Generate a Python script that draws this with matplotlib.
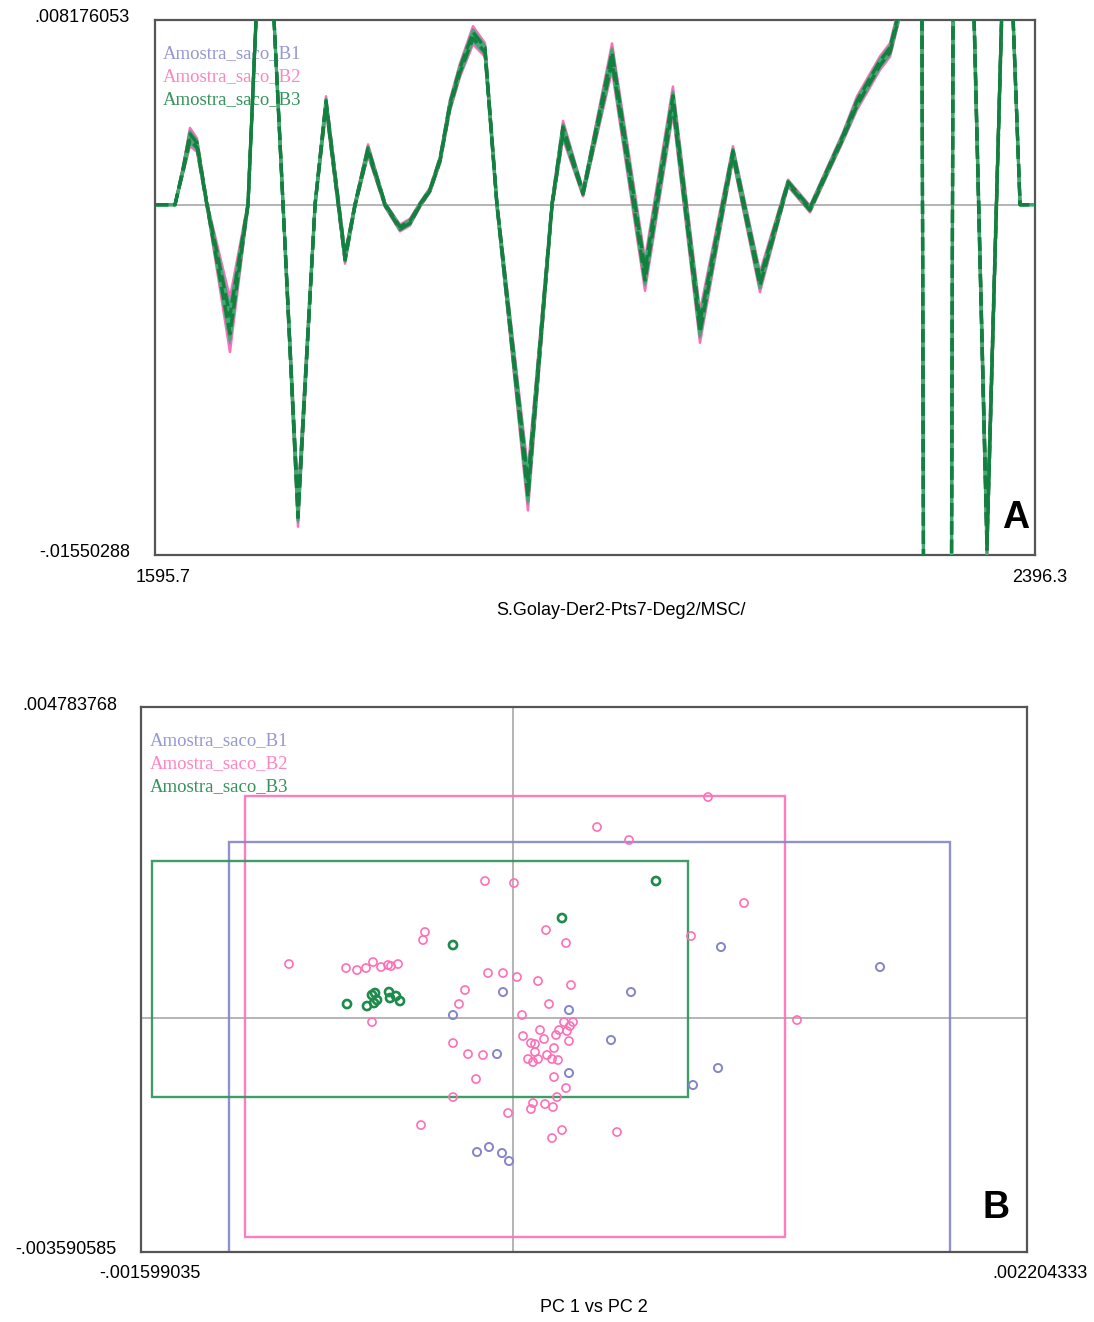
import matplotlib
matplotlib.use("Agg")
import matplotlib.pyplot as plt
from matplotlib.patches import Rectangle
import numpy as np

# ---------------- Panel A data (2nd derivative spectra) ----------------
wavelength = [1595.7, 1613.9, 1621.2, 1627.5, 1633.9, 1643.0, 1663.9, 1680.3, 1687.6, 1696.7,
              1704.0, 1712.2, 1725.8, 1741.3, 1751.3, 1768.6, 1777.7, 1789.5, 1805.0, 1818.6,
              1827.7, 1836.8, 1845.9, 1855.0, 1864.1, 1873.2, 1885.0, 1895.9, 1906.8, 1935.0,
              1956.9, 1966.9, 1985.1, 2011.5, 2041.5, 2066.9, 2091.5, 2121.5, 2146.1, 2171.6,
              2191.6, 2221.6, 2234.4, 2255.3, 2264.4, 2273.5, 2287.1, 2300.8, 2314.4, 2328.1,
              2339.0, 2352.6, 2368.1, 2373.5, 2382.7, 2396.3]
mean_spectrum = [0.0, 0.0, 0.00154, 0.00300, 0.00264, 0.0, -0.00532, 0.0, 0.00818, 0.00995,
                 0.00818, 0.0, -0.01365, 0.0, 0.00450, -0.00236, 0.0, 0.00242, 0.0, -0.00103,
                 -0.00077, 0.0, 0.00065, 0.00198, 0.00441, 0.00596, 0.00750, 0.00685, 0.0, -0.01263,
                 0.0, 0.00331, 0.00052, 0.00654, -0.00311, 0.00463, -0.00541, 0.00229, -0.00342, 0.00096,
                 -0.00019, 0.00300, 0.00450, 0.00627, 0.00685, 0.00862, 0.12, -0.12, -0.12, 0.12,
                 0.012, -0.0150, 0.012, 0.012, 0.0, 0.0]
spread = [0.0, 0.0, 0.00015, 0.0004, 0.0003, 0.0001, 0.0012, 0.0001, 0.00015, 0.00015,
          0.00015, 0.0001, 0.0006, 0.0001, 0.0003, 0.00025, 0.0001, 0.00025, 0.0001, 0.00015,
          0.00015, 0.0001, 0.0001, 0.00015, 0.00025, 0.0003, 0.0004, 0.0003, 0.00015, 0.0009,
          0.00015, 0.0004, 0.00015, 0.0006, 0.0007, 0.0006, 0.0007, 0.0003, 0.00045, 0.00015,
          0.00015, 0.0002, 0.0003, 0.0003, 0.0003, 0.0003, 0.0004, 0.0004, 0.0004, 0.0004,
          0.0004, 0.0008, 0.0004, 0.0004, 0.0, 0.0]
group_spread = {"B1": 0.7, "B2": 1.0, "B3": 0.55}
a_xlim = (1595.7, 2396.3)
a_ylim = (-0.01550288, 0.008176053)
a_labels = [".008176053", "-.01550288", "1595.7", "2396.3"]
a_xlabel = "S.Golay-Der2-Pts7-Deg2/MSC/"

# ---------------- Panel B data (PCA scores) ----------------
pc1_b1 = [8.907e-4, 5.044e-4, -0.451e-4, 2.382e-4, -2.597e-4, 4.185e-4, -0.708e-4, 2.382e-4,
          8.779e-4, 7.705e-4, -1.567e-4, -1.052e-4, -0.494e-4, -0.193e-4, 15.733e-4]
pc2_b1 = [10.956e-4, 4.041e-4, 4.041e-4, 1.275e-4, 0.507e-4, -3.334e-4, -5.486e-4, -8.405e-4,
          -7.637e-4, -10.249e-4, -20.544e-4, -19.776e-4, -20.698e-4, -21.927e-4, 7.883e-4]

pc1_b2 = [-9.637, -7.190, -6.718, -6.332, -6.031, -5.688, -5.387, -5.259, -4.958, -3.799,
          -3.885, -2.082, -2.340, -6.074, -1.223, 0.021, -1.095, -0.451, 0.150, 1.395,
          2.254, 1.052, 2.468, 1.524, 0.365, 8.349, 3.584, 4.958, 9.895, 7.620,
          12.170, 2.168, 2.425, 2.554, -2.597, 1.138, 0.408, 0.751, 1.824, 2.297,
          2.382, -1.953, -1.309, 0.923, 0.622, 0.837, 1.052, 1.438, 1.739, 1.653,
          1.910, -1.610, 1.739, 2.254, -2.597, 1.867, 0.837, 1.352, 1.696, 0.751,
          -0.236, -3.971, 2.082, 1.653, 4.443, 0.923, 1.309, 1.953]
pc2_b2 = [8.344, 7.729, 7.422, 7.729, 8.651, 7.883, 8.190, 8.036, 8.344, 13.261,
          12.032, 4.349, 2.197, -0.569, 21.098, 20.790, 6.961, 6.961, 6.346, 13.568,
          11.571, 5.732, 5.117, 2.197, 0.507, 34.005, 29.395, 27.398, 17.717, 12.646,
          -0.261, -0.569, -1.183, -0.569, -3.795, -1.798, -2.720, -3.795, -2.566, -1.951,
          -3.488, -5.486, -5.639, -5.178, -6.254, -6.715, -6.254, -5.639, -4.564, -6.254,
          -6.408, -9.327, -9.020, -10.710, -12.093, -12.093, -13.015, -13.169, -13.630, -13.937,
          -14.552, -16.396, -17.164, -18.393, -17.471, -3.949, -3.181, -1.798]
pc1_b2 = [v * 1e-4 for v in pc1_b2]
pc2_b2 = [v * 1e-4 for v in pc2_b2]

pc1_b3 = [6.117e-4, 2.082e-4, -2.597e-4, -7.147e-4, -6.289e-4, -6.074e-4, -5.945e-4, -5.860e-4,
          -5.988e-4, -5.344e-4, -5.301e-4, -5.044e-4, -4.872e-4]
pc2_b3 = [21.098e-4, 15.412e-4, 11.263e-4, 2.197e-4, 1.890e-4, 3.580e-4, 3.888e-4, 2.812e-4,
          2.351e-4, 4.041e-4, 3.119e-4, 3.427e-4, 2.658e-4]

# group boxes: (xmin, xmax, ymin, ymax)
box_b1 = (-12.213e-4, 18.738e-4, -36.3e-4, 27.090e-4)
box_b2 = (-11.526e-4, 11.655e-4, -33.605e-4, 34.159e-4)
box_b3 = (-15.518e-4, 7.491e-4, -12.093e-4, 24.171e-4)

b_xlim = (-0.001599035, 0.002204333)
b_ylim = (-0.003590585, 0.004783768)
b_labels = [".004783768", "-.003590585", "-.001599035", ".002204333"]
b_xlabel = "PC 1 vs PC 2"

group_names = ["Amostra_saco_B1", "Amostra_saco_B2", "Amostra_saco_B3"]

# ---------------- styling ----------------
c_b1 = "#8585cc"
c_b2 = "#ff6fb8"
c_b3 = "#12803f"
c_b3_light = "#45a872"
frame_c = "#555555"
zero_c = "#a8a8a8"
tick_font = ["Liberation Sans", "DejaVu Sans"]
legend_font = ["Liberation Serif", "DejaVu Serif"]

W, H = 1094, 1322
fig = plt.figure(figsize=(W / 100, H / 100), dpi=100)
fig.patch.set_facecolor("white")

def frac(x0, y0, x1, y1):
    return [x0 / W, 1 - y1 / H, (x1 - x0) / W, (y1 - y0) / H]

# ================= Panel A =================
axA = fig.add_axes(frac(155, 20, 1035, 555))
axA.set_xlim(*a_xlim)
axA.set_ylim(*a_ylim)
axA.axhline(0, color=zero_c, lw=1.2, zorder=1)

wl = np.array(wavelength)
mu = np.array(mean_spectrum)
sp = np.array(spread)

# B2 (pink) envelope and lines
f2 = group_spread["B2"]
axA.fill_between(wl, mu - f2 * sp, mu + f2 * sp, color=c_b2, lw=0, zorder=3)
for k in [-1.0, -0.5, 0.5, 1.0]:
    axA.plot(wl, mu + k * f2 * sp, color=c_b2, lw=1.8, zorder=3, solid_joinstyle="round")
# B1 (purple)
f1 = group_spread["B1"]
for k in [-1.0, 1.0]:
    axA.plot(wl, mu + k * f1 * sp, color=c_b1, lw=1.2, zorder=4, solid_joinstyle="round")
# B3 (green)
f3 = group_spread["B3"]
for k in [-1.0, 0.0, 1.0]:
    axA.plot(wl, mu + k * f3 * sp, color=c_b3_light, lw=2.2, zorder=5, solid_joinstyle="round")
for k in [-0.6, 0.6]:
    axA.plot(wl, mu + k * f3 * sp, color=c_b3, lw=2.4, zorder=6, dashes=(4, 1.5),
             dash_joinstyle="round")

for i, (name, col) in enumerate(zip(group_names, [c_b1, c_b2, c_b3])):
    axA.text(0.009, 0.9364 - i * 0.043, name, transform=axA.transAxes, color=col,
             family=legend_font, fontsize=13.5, va="center", ha="left", zorder=2, alpha=0.85)

axA.text(0.978, 0.069, "A", transform=axA.transAxes, fontsize=27, fontweight="bold",
         family=["Liberation Sans", "DejaVu Sans"], ha="center", va="center", zorder=10)

# ================= Panel B =================
axB = fig.add_axes(frac(141, 707, 1027, 1252))
axB.set_xlim(*b_xlim)
axB.set_ylim(*b_ylim)
axB.axhline(0, color=zero_c, lw=1.2, zorder=1)
axB.axvline(0, color=zero_c, lw=1.2, zorder=1)

for box, col in [(box_b2, c_b2), (box_b1, c_b1), (box_b3, "#2a9458")]:
    x0, x1, y0, y1 = box
    axB.add_patch(Rectangle((x0, y0), x1 - x0, y1 - y0, fill=False, edgecolor=col,
                            lw=1.7, alpha=0.9, zorder=2))

axB.scatter(pc1_b2, pc2_b2, s=34, facecolors="none", edgecolors=c_b2, linewidths=1.2, zorder=4)
axB.scatter(pc1_b1, pc2_b1, s=34, facecolors="none", edgecolors=c_b1, linewidths=1.4, zorder=4)
axB.scatter(pc1_b3, pc2_b3, s=34, facecolors="none", edgecolors="#1e8a4c", linewidths=1.9, zorder=5)

for i, (name, col) in enumerate(zip(group_names, [c_b1, c_b2, c_b3])):
    axB.text(0.0102, 0.9376 - i * 0.0422, name, transform=axB.transAxes, color=col,
             family=legend_font, fontsize=13.5, va="center", ha="left", zorder=3, alpha=0.85)

axB.text(0.965, 0.0807, "B", transform=axB.transAxes, fontsize=27, fontweight="bold",
         family=["Liberation Sans", "DejaVu Sans"], ha="center", va="center", zorder=10)

for ax in (axA, axB):
    ax.set_xticks([])
    ax.set_yticks([])
    for s in ax.spines.values():
        s.set_color(frame_c)
        s.set_linewidth(1.6)

# ---------------- limit labels ----------------
fs = 13
fig.text(130 / W, 1 - 18 / H, a_labels[0], ha="right", va="center", fontsize=fs, family=tick_font)
fig.text(130 / W, 1 - 552 / H, a_labels[1], ha="right", va="center", fontsize=fs, family=tick_font)
fig.text(163 / W, 1 - 577 / H, a_labels[2], ha="center", va="center", fontsize=fs, family=tick_font)
fig.text(1040 / W, 1 - 577 / H, a_labels[3], ha="center", va="center", fontsize=fs, family=tick_font)
fig.text(621 / W, 1 - 610 / H, a_xlabel, ha="center", va="center", fontsize=fs, family=tick_font)

fig.text(117 / W, 1 - 705 / H, b_labels[0], ha="right", va="center", fontsize=fs, family=tick_font)
fig.text(117 / W, 1 - 1250 / H, b_labels[1], ha="right", va="center", fontsize=fs, family=tick_font)
fig.text(150 / W, 1 - 1273 / H, b_labels[2], ha="center", va="center", fontsize=fs, family=tick_font)
fig.text(1040 / W, 1 - 1273 / H, b_labels[3], ha="center", va="center", fontsize=fs, family=tick_font)
fig.text(594 / W, 1 - 1308 / H, b_xlabel, ha="center", va="center", fontsize=fs, family=tick_font)

fig.savefig("out.png", dpi=100, facecolor="white")
